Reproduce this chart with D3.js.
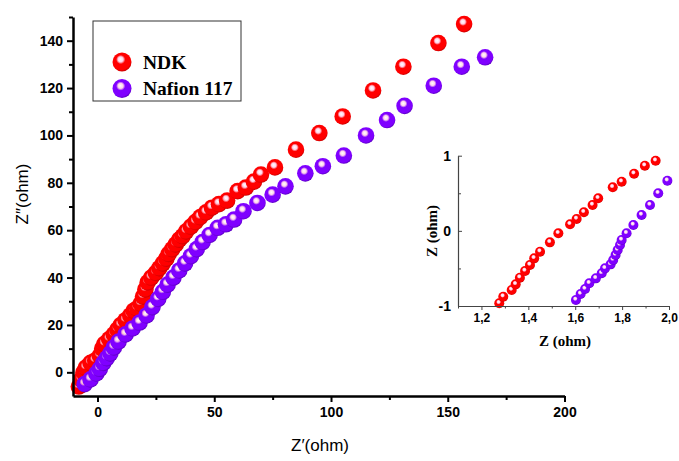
<!DOCTYPE html>
<html lang="en">
<head>
<meta charset="UTF-8">
<title>Nyquist plot</title>
<script src="https://d3js.org/d3.v7.min.js"></script>
<style>
  body { margin: 0; background: #fff; }
  svg { display: block; }
  .tick text { font-family: "Liberation Sans", Arial, sans-serif; font-weight: bold; }
</style>
</head>
<body>
<svg width="679" height="461"></svg>
<script>
// main plot data (Z', Z'')
const ndkX = [-8, -7, -6, -5, -3, -1, 1, 2, 3, 5, 7, 8.5, 10, 12, 14, 15.5, 17, 18.5, 19.5, 20.5, 21.5, 23, 25, 26.5, 28, 29.5, 30.5, 32, 33.5, 35, 36.5, 38, 40, 42, 44, 46.5, 49, 52, 55.5, 60, 63.5, 67, 70, 76, 85, 95, 105, 118, 131, 146, 157];
const ndkY = [-6, -3, 0, 2, 4, 5, 7, 10, 12, 14, 16, 18, 20, 22, 24, 26, 27, 29, 32, 35, 38, 40, 42, 44, 46, 48, 50, 52, 54, 56, 57.5, 59.5, 61.5, 63.5, 65.5, 67.5, 69.5, 71, 72.5, 76.5, 78, 80.5, 83.5, 86.5, 94, 101, 108, 119, 129, 139, 147];
const nafX = [-5.5, -3, -0.5, 1, 2.5, 4, 5.5, 7, 9, 12, 15, 18, 21, 23.5, 26, 28, 30, 32.5, 35, 37.5, 40, 42.5, 45, 48, 51.5, 55, 58.5, 62.5, 68.5, 75, 80.5, 89, 96.5, 105.5, 115, 124, 131.5, 144, 156, 166];
const nafY = [-5, -3, -0.5, 1.5, 4, 6, 8, 10.5, 13, 16, 18.5, 21, 24, 27.5, 31, 34, 37, 40, 43, 46, 49, 52, 55, 58, 61, 62.5, 64.5, 68, 71.5, 75, 78.5, 84, 87, 91.5, 100, 106.5, 112.5, 121, 129, 133];

// inset data
const insNdkX = [1.276, 1.293, 1.329, 1.346, 1.364, 1.386, 1.407, 1.425, 1.450, 1.492, 1.528, 1.578, 1.606, 1.637, 1.674, 1.698, 1.760, 1.798, 1.851, 1.897, 1.943];
const insNdkY = [-0.964, -0.876, -0.787, -0.712, -0.623, -0.534, -0.454, -0.366, -0.277, -0.153, -0.033, 0.087, 0.158, 0.247, 0.344, 0.433, 0.579, 0.654, 0.760, 0.867, 0.933];
const insNafX = [1.603, 1.623, 1.642, 1.660, 1.688, 1.713, 1.727, 1.751, 1.762, 1.772, 1.781, 1.791, 1.798, 1.819, 1.848, 1.883, 1.919, 1.954, 1.993];
const insNafY = [-0.920, -0.840, -0.774, -0.698, -0.632, -0.565, -0.499, -0.446, -0.388, -0.321, -0.255, -0.188, -0.122, -0.033, 0.078, 0.211, 0.344, 0.500, 0.667];

const seriesNames = ["NDK", "Nafion 117"];
const colors = ["#ff0000", "#7f00ff"];
const darks = ["#c80000", "#5a00c0"];

const xTicks = [0, 50, 100, 150, 200];
const yTicks = [0, 20, 40, 60, 80, 100, 120, 140];
const insXTicks = [1.2, 1.4, 1.6, 1.8, 2.0];
const insYTicks = [-1, 0, 1];

const svg = d3.select("svg");
const defs = svg.append("defs");
colors.forEach((c, i) => {
  const g = defs.append("radialGradient").attr("id", "ball" + i)
    .attr("cx", "45%").attr("cy", "40%").attr("r", "60%")
    .attr("fx", "42%").attr("fy", "35%");
  g.append("stop").attr("offset", "0%").attr("stop-color", "#ffffff");
  g.append("stop").attr("offset", "22%").attr("stop-color", "#ffd0e8").attr("stop-opacity", 0.9);
  g.append("stop").attr("offset", "40%").attr("stop-color", c);
  g.append("stop").attr("offset", "85%").attr("stop-color", c);
  g.append("stop").attr("offset", "100%").attr("stop-color", darks[i]);
});

// main scales
const x = d3.scaleLinear().domain([-10.5, 200]).range([73, 564.5]);
const y = d3.scaleLinear().domain([-10, 150]).range([396, 17]);

function drawSeries(g, xs, ys, sx, sy, r, i) {
  g.append("g").selectAll("circle")
    .data(xs.map((v, k) => [v, ys[k]]))
    .join("circle")
    .attr("cx", d => sx(d[0]))
    .attr("cy", d => sy(d[1]))
    .attr("r", r)
    .attr("fill", `url(#ball${i})`);
}

drawSeries(svg, ndkX, ndkY, x, y, 8.3, 0);
drawSeries(svg, nafX, nafY, x, y, 8.3, 1);

// main axes
const xAxis = svg.append("g").attr("transform", "translate(0,396)")
  .call(d3.axisBottom(x).tickValues(xTicks).tickSize(6).tickPadding(5).tickSizeOuter(0));
svg.append("g").attr("transform", "translate(0,396)")
  .call(d3.axisBottom(x).tickValues([25, 75, 125, 175]).tickSize(4).tickFormat("").tickSizeOuter(0))
  .select(".domain").remove();
const yAxis = svg.append("g").attr("transform", "translate(73,0)")
  .call(d3.axisLeft(y).tickValues(yTicks).tickSize(6).tickPadding(4).tickSizeOuter(0));
svg.append("g").attr("transform", "translate(73,0)")
  .call(d3.axisLeft(y).tickValues([10, 30, 50, 70, 90, 110, 130, 150]).tickSize(4).tickFormat("").tickSizeOuter(0))
  .select(".domain").remove();

svg.selectAll(".tick line").attr("stroke-width", 2);
[xAxis, yAxis].forEach(a => {
  a.select(".domain").attr("stroke-width", 2.5);
  a.selectAll(".tick text").attr("font-size", 14).attr("fill", "#000");
});

svg.append("text").attr("x", 320).attr("y", 451).attr("text-anchor", "middle")
  .attr("font-family", "Liberation Sans, Arial, sans-serif").attr("font-size", 17)
  .text("Z\u2032(ohm)");
svg.append("text").attr("transform", "translate(28,194) rotate(-90)").attr("text-anchor", "middle")
  .attr("font-family", "Liberation Sans, Arial, sans-serif").attr("font-size", 17)
  .text("Z\u2033(ohm)");

// legend
const leg = svg.append("g");
leg.append("rect").attr("x", 93).attr("y", 21).attr("width", 148).attr("height", 80)
  .attr("fill", "#fff").attr("stroke", "#333").attr("stroke-width", 1);
seriesNames.forEach((n, i) => {
  const ly = 62 + i * 26.5;
  leg.append("circle").attr("cx", 122).attr("cy", ly).attr("r", 9.5).attr("fill", `url(#ball${i})`);
  leg.append("text").attr("x", 143).attr("y", ly + 6.5)
    .attr("font-family", "Liberation Serif, 'Times New Roman', serif").attr("font-weight", "bold")
    .attr("font-size", 19.5).text(n);
});

// inset
const ix = d3.scaleLinear().domain([1.1, 2.0]).range([458, 669]);
const iy = d3.scaleLinear().domain([-1, 1]).range([306, 155.7]);

drawSeries(svg, insNdkX, insNdkY, ix, iy, 5, 0);
drawSeries(svg, insNafX, insNafY, ix, iy, 5, 1);

const ixAxis = svg.append("g").attr("transform", "translate(0,306)")
  .call(d3.axisBottom(ix).tickValues(insXTicks).tickSize(4).tickPadding(3).tickSizeOuter(0)
    .tickFormat(d => d3.format(".1f")(d).replace(".", ",")));
const ixMinor = svg.append("g").attr("transform", "translate(0,306)")
  .call(d3.axisBottom(ix).tickValues([1.1, 1.3, 1.5, 1.7, 1.9]).tickSize(2.5).tickFormat("").tickSizeOuter(0));
ixMinor.select(".domain").remove();
const iyAxis = svg.append("g").attr("transform", "translate(458,0)")
  .call(d3.axisLeft(iy).tickValues(insYTicks).tickSize(-4).tickPadding(7).tickSizeOuter(0)
    .tickFormat(d => String(d)));
const iyMinor = svg.append("g").attr("transform", "translate(458,0)")
  .call(d3.axisLeft(iy).tickValues([-0.5, 0.5]).tickSize(-3).tickFormat("").tickSizeOuter(0));
iyMinor.select(".domain").remove();
[ixAxis, iyAxis, ixMinor, iyMinor].forEach(a => {
  a.select(".domain").attr("stroke", "#444").attr("stroke-width", 1.2);
  a.selectAll(".tick line").attr("stroke-width", 1).attr("stroke", "#444");
});
ixAxis.selectAll(".tick text").attr("font-size", 12).attr("fill", "#000");
iyAxis.selectAll(".tick text").attr("font-size", 14).attr("fill", "#000");

svg.append("text").attr("x", 565).attr("y", 346).attr("text-anchor", "middle")
  .attr("font-family", "Liberation Serif, 'Times New Roman', serif").attr("font-weight", "bold")
  .attr("font-size", 15).text("Z (ohm)");
svg.append("text").attr("transform", "translate(437,231) rotate(-90)").attr("text-anchor", "middle")
  .attr("font-family", "Liberation Serif, 'Times New Roman', serif").attr("font-weight", "bold")
  .attr("font-size", 15).text("Z (ohm)");
</script>
</body>
</html>
